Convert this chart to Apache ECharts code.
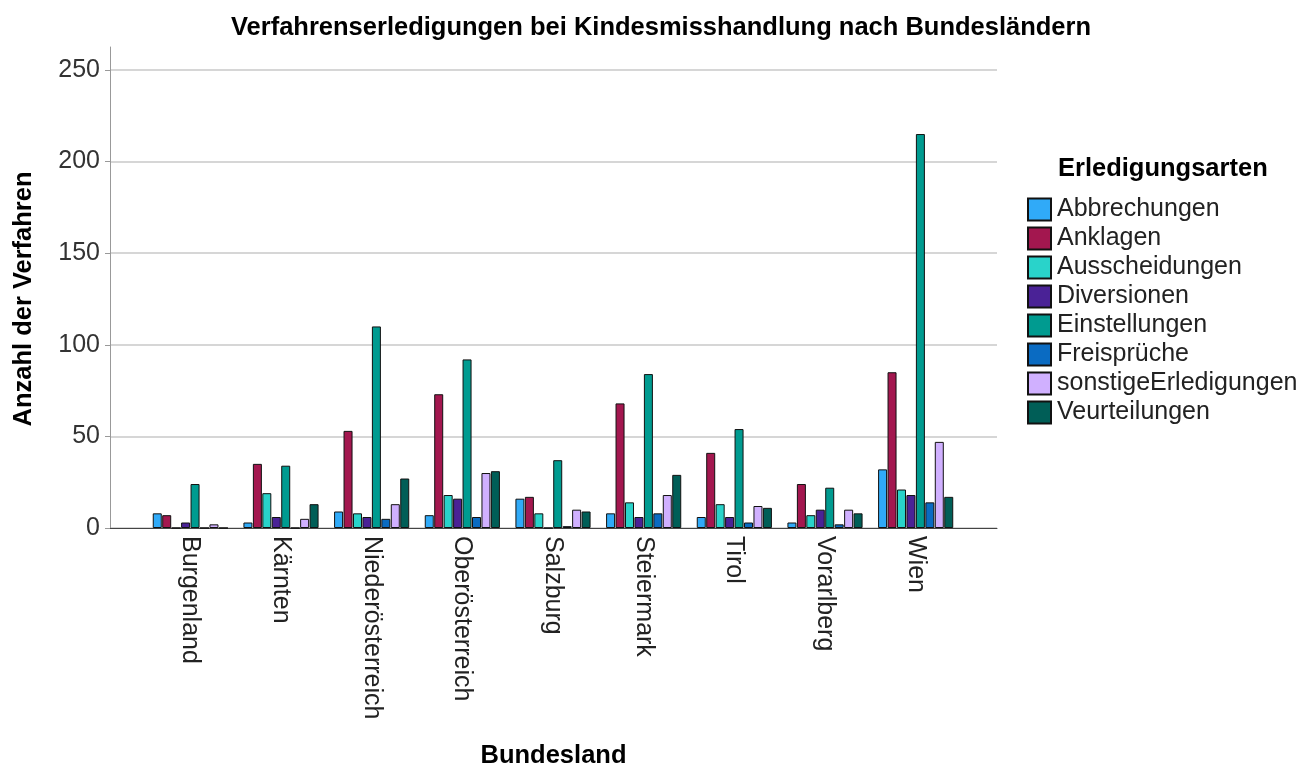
<!DOCTYPE html>
<html>
<head>
<meta charset="utf-8">
<script src="https://cdn.jsdelivr.net/npm/echarts@6/dist/echarts.min.js"></script>
<style>
  html, body { margin: 0; padding: 0; background: #fff; }
  #chart { width: 1300px; height: 764px; }
</style>
</head>
<body>
<div id="chart"></div>
<script>
const categories = ['Burgenland', 'Kärnten', 'Niederösterreich', 'Oberösterreich', 'Salzburg', 'Steiermark', 'Tirol', 'Vorarlberg', 'Wien'];
const seriesNames = ['Abbrechungen', 'Anklagen', 'Ausscheidungen', 'Diversionen', 'Einstellungen', 'Freisprüche', 'sonstigeErledigungen', 'Veurteilungen'];
const abbrechungen = [8, 3, 9, 7, 16, 8, 6, 3, 32];
const anklagen = [7, 35, 53, 73, 17, 68, 41, 24, 85];
const ausscheidungen = [0, 19, 8, 18, 8, 14, 13, 7, 21];
const diversionen = [3, 6, 6, 16, 0, 6, 6, 10, 18];
const einstellungen = [24, 34, 110, 92, 37, 84, 54, 22, 215];
const freisprueche = [0, 0, 5, 6, 1, 8, 3, 2, 14];
const sonstige = [2, 5, 13, 30, 10, 18, 12, 10, 47];
const verurteilungen = [0, 13, 27, 31, 9, 29, 11, 8, 17];

const seriesValues = [abbrechungen, anklagen, ausscheidungen, diversionen, einstellungen, freisprueche, sonstige, verurteilungen];
const colors = ['#30aaf8', '#a3174f', '#29d3ca', '#4a2296', '#009b90', '#0a6bc2', '#d0b0ff', '#005e57'];

const font = "'Liberation Sans', Arial, sans-serif";
// the axis line runs a little above the last gridline
const yMax = 262.5;
const yTickMax = 250;

const chart = echarts.init(document.getElementById('chart'), null, { renderer: 'canvas' });

chart.setOption({
  animation: false,
  backgroundColor: '#fff',
  textStyle: { fontFamily: font },
  title: [
    {
      text: 'Verfahrenserledigungen bei Kindesmisshandlung nach Bundesländern',
      left: 656,
      top: 10,
      textAlign: 'center',
      textStyle: { fontFamily: font, fontSize: 25.5, fontWeight: 'bold', color: '#000' },
    },
    {
      text: 'Erledigungsarten',
      left: 1053,
      top: 151,
      textStyle: { fontFamily: font, fontSize: 25.5, fontWeight: 'bold', color: '#000' },
    },
  ],
  legend: {
    orient: 'vertical',
    left: 1027,
    top: 197,
    padding: 0,
    itemWidth: 23,
    itemHeight: 22,
    itemGap: 4,
    icon: 'rect',
    data: seriesNames,
    textStyle: { fontFamily: font, fontSize: 25, color: '#222', lineHeight: 24, padding: [0, 0, 0, 1] },
  },
  grid: [
    { left: 110, right: 303, top: 70, bottom: 236, outerBoundsMode: 'none', containLabel: false },
    { left: 145, right: 339, top: 47, bottom: 236, outerBoundsMode: 'none', containLabel: false },
  ],
  xAxis: [
    {
      gridIndex: 0,
      type: 'value',
      min: 0,
      max: 1,
      axisLine: { show: true, lineStyle: { color: '#444', width: 1 } },
      axisTick: { show: false },
      axisLabel: { show: false },
      splitLine: { show: false },
      name: 'Bundesland',
      nameLocation: 'middle',
      nameGap: 215,
      nameTextStyle: { fontFamily: font, fontSize: 25.5, fontWeight: 'bold', color: '#000' },
    },
    {
      gridIndex: 1,
      type: 'category',
      data: categories,
      axisLine: { show: false },
      axisTick: { show: false },
      axisLabel: { rotate: -90, margin: 8, fontFamily: font, fontSize: 25, color: '#222' },
    },
  ],
  yAxis: [
    {
      gridIndex: 0,
      type: 'value',
      min: 0,
      max: yTickMax,
      interval: 50,
      axisLine: { show: false },
      axisTick: { show: true, length: 5, lineStyle: { color: '#999' } },
      axisLabel: { margin: 10, fontFamily: font, fontSize: 25, color: '#333' },
      splitLine: { show: true, lineStyle: { color: '#c9c9c9', width: 1.5 } },
      name: 'Anzahl der Verfahren',
      nameLocation: 'middle',
      nameGap: 73,
      nameTextStyle: { fontFamily: font, fontSize: 25.5, fontWeight: 'bold', color: '#000' },
    },
    {
      gridIndex: 1,
      type: 'value',
      min: 0,
      max: yMax,
      offset: 35,
      axisLine: { show: true, lineStyle: { color: '#999', width: 1 } },
      axisTick: { show: false },
      axisLabel: { show: false },
      splitLine: { show: false },
    },
  ],
  series: seriesNames.map((name, i) => ({
    name: name,
    type: 'bar',
    xAxisIndex: 1,
    yAxisIndex: 1,
    data: seriesValues[i],
    barWidth: 9,
    barGap: '5%',
    itemStyle: { color: colors[i], borderColor: '#111', borderWidth: 1 },
  })),
});
</script>
</body>
</html>
